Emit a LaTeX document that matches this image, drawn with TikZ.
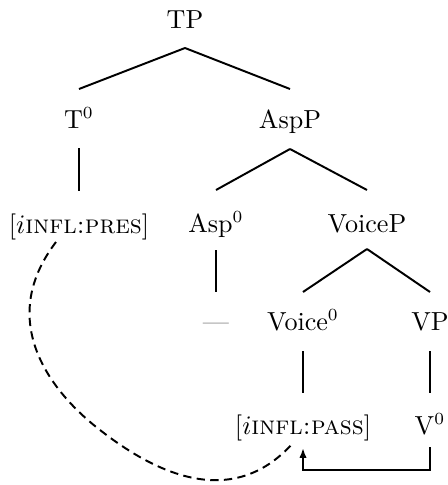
\documentclass[tikz,border=0pt]{standalone}
\usetikzlibrary{calc,arrows.meta}
\begin{document}
\begin{tikzpicture}[x=0.41pt,y=-0.41pt,
  lab/.style={inner sep=0pt,anchor=base,font=\fontsize{10.7}{13}\selectfont},
  branch/.style={line width=0.8pt},
  link/.style={line width=0.8pt,dash pattern=on 3.4pt off 2.2pt},
  move/.style={line width=0.8pt,-{Latex[length=4pt,width=3pt]}}]
\useasboundingbox (0,0) rectangle (447,485);
% nodes
\node[lab] (TP) at (185,28) {TP};
\node[lab] (T0) at (79,128) {T$^0$};
\node[lab] (AspP) at (290,128) {AspP};
\node[lab] (PRES) at (79,233) {[$i$\textsc{infl:pres}]};
\node[lab] (Asp0) at (216,232) {Asp$^0$};
\node[lab] (VoiceP) at (367,232) {VoiceP};
\node[lab,text=black!65] (gap) at (216,330) {---};
\node[lab] (Voice0) at (303,330) {Voice$^0$};
\node[lab] (VP) at (430,330) {VP};
\node[lab] (PASS) at (303,434) {[$i$\textsc{infl:pass}]};
\node[lab] (V0) at (430,434) {V$^0$};
% branches
\draw[branch] ($(TP.base)+(0,20)$) -- ($(T0.base)+(0,-39)$);
\draw[branch] ($(TP.base)+(0,20)$) -- ($(AspP.base)+(0,-39)$);
\draw[branch] ($(T0.base)+(0,20)$) -- ($(PRES.base)+(0,-42)$);
\draw[branch] ($(AspP.base)+(0,21)$) -- ($(Asp0.base)+(0,-42)$);
\draw[branch] ($(AspP.base)+(0,21)$) -- ($(VoiceP.base)+(0,-42)$);
\draw[branch] ($(Asp0.base)+(0,18)$) -- ($(gap.base)+(0,-38)$);
\draw[branch] ($(VoiceP.base)+(0,17)$) -- ($(Voice0.base)+(0,-38)$);
\draw[branch] ($(VoiceP.base)+(0,17)$) -- ($(VP.base)+(0,-38)$);
\draw[branch] ($(Voice0.base)+(0,21)$) -- ($(PASS.base)+(0,-41)$);
\draw[branch] ($(VP.base)+(0,21)$) -- ($(V0.base)+(0,-41)$);
% movement arrow
\draw[move] ($(V0.base)+(0,13)$) -- ($(V0.base)+(0,36)$) -| ($(PASS.base)+(0,14)$);
% dashed agreement link
\coordinate (m) at (100,430);
\draw[link] ($(PRES.base)+(-23,9)$) .. controls (-5,322) and (52,393) .. (m)
  .. controls (155,473) and (232,511) .. ($(PASS.base)+(-10,9)$);
\end{tikzpicture}
\end{document}
